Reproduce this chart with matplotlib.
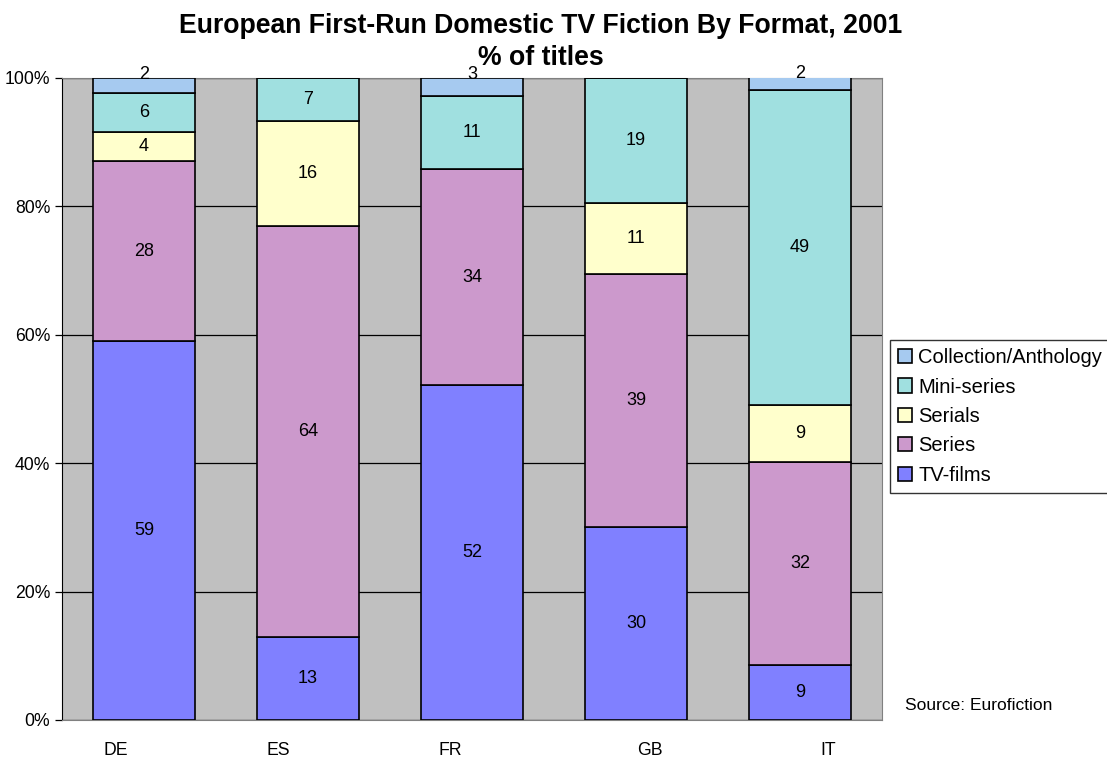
import matplotlib.pyplot as plt
import numpy as np

plt.rcParams['font.family'] = ['Liberation Sans', 'DejaVu Sans']

countries = ['DE', 'ES', 'FR', 'GB', 'IT']
formats = ['TV-films', 'Series', 'Serials', 'Mini-series', 'Collection/Anthology']

# % of titles
tv_films = [59.0, 12.9, 52.2, 30.0, 8.6]
series = [28.1, 64.0, 33.6, 39.4, 31.6]
serials = [4.5, 16.4, 0.0, 11.2, 8.8]
mini_series = [6.1, 6.7, 11.4, 19.4, 49.2]
collection = [2.3, 0.0, 2.8, 0.0, 1.9]

colors = ['#8080FF', '#CC99CC', '#FFFFCC', '#A0E0E0', '#A6CAF0']
# x label offsets (the old excel export had them shifted)
label_shift = [-0.17, -0.18, -0.13, 0.085, 0.17]

data = [tv_films, series, serials, mini_series, collection]

fig = plt.figure(figsize=(11.07, 7.61), dpi=100)
ax = fig.add_axes([62/1107, 1-720/761, 820/1107, 642/761])
ax.set_facecolor('#C0C0C0')

x = np.arange(len(countries))
bottom = np.zeros(len(countries))
for vals, name, col in zip(data, formats, colors):
    vals = np.array(vals)
    ax.bar(x, vals, 0.625, bottom=bottom, color=col, edgecolor='black',
           linewidth=1.2, label=name, zorder=3)
    for i in range(len(x)):
        if vals[i] <= 0:
            continue
        if name == 'Collection/Anthology':
            y = bottom[i] + vals[i] + 0.6
        else:
            y = bottom[i] + vals[i] / 2
        ax.text(x[i], y, '%d' % round(vals[i]), ha='center', va='center',
                fontsize=13, zorder=4)
    bottom = bottom + vals

ax.set_xlim(-0.5, len(countries) - 0.5)
ax.set_ylim(0, 100)
ax.set_yticks([0, 20, 40, 60, 80, 100])
ax.set_yticklabels(['0%', '20%', '40%', '60%', '80%', '100%'], fontsize=12.7)
ax.yaxis.grid(True, color='black', linewidth=0.9, zorder=0)
ax.set_axisbelow(True)
ax.set_xticks(x + np.array(label_shift))
ax.set_xticklabels(countries, fontsize=12.7)
ax.tick_params(axis='x', length=0, pad=16)
ax.tick_params(axis='y', length=5, direction='out', width=0.9)

for s in ['top', 'right', 'bottom']:
    ax.spines[s].set_color('#808080')
ax.spines['left'].set_color('black')

fig.text(541/1107, 1-26/761, 'European First-Run Domestic TV Fiction By Format, 2001',
         ha='center', va='center', fontsize=19.2, fontweight='bold')
fig.text(541/1107, 1-58/761, '% of titles', ha='center', va='center',
         fontsize=19.2, fontweight='bold')

h, l = ax.get_legend_handles_labels()
leg = fig.legend(h[::-1], l[::-1], loc='upper left', bbox_to_anchor=(890/1107, 1-340/761),
                 fontsize=14.5, frameon=True, fancybox=False, edgecolor='black',
                 handlelength=0.7, handleheight=0.7, handletextpad=0.3,
                 labelspacing=0.52, borderpad=0.4, borderaxespad=0)
leg.get_frame().set_linewidth(1.0)

fig.text(905/1107, 1-706/761, 'Source: Eurofiction', ha='left', va='center', fontsize=12.5)

plt.savefig('out.png', dpi=100)
